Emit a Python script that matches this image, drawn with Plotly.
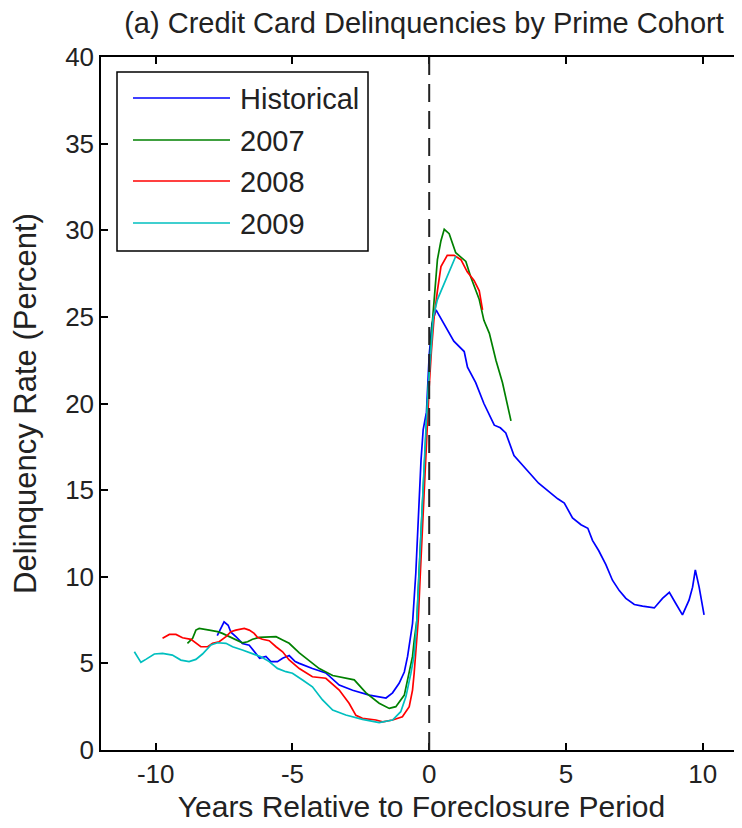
import plotly.graph_objects as go

hist_x = [-7.75, -7.5, -7.35, -7.25, -7.07, -6.83, -6.58, -6.4, -6.2, -5.97, -5.79, -5.55, -5.36, -5.12, -4.9, -4.75, -4.27, -3.78, -3.29, -2.8, -2.19, -1.58, -1.34, -1.1, -0.91, -0.79, -0.7, -0.61, -0.49, -0.43, -0.37, -0.3, -0.22, -0.1, 0.0, 0.1, 0.25, 0.55, 0.9, 1.28, 1.4, 1.7, 2.0, 2.38, 2.6, 2.8, 3.1, 3.66, 4.0, 4.7, 4.94, 5.24, 5.55, 5.8, 5.97, 6.2, 6.46, 6.7, 6.95, 7.19, 7.5, 7.8, 8.23, 8.53, 8.78, 9.0, 9.26, 9.5, 9.63, 9.73, 9.87, 10.05]
hist_y = [6.6, 7.4, 7.2, 6.8, 6.55, 6.15, 6.05, 5.67, 5.3, 5.4, 5.1, 5.1, 5.3, 5.45, 5.1, 5.0, 4.7, 4.45, 3.75, 3.45, 3.17, 3.0, 3.3, 3.85, 4.5, 5.4, 6.35, 7.3, 10.2, 12.3, 14.6, 16.7, 18.5, 19.5, 22.8, 24.6, 25.4, 24.6, 23.6, 23.0, 22.1, 21.2, 20.0, 18.75, 18.6, 18.3, 17.0, 16.0, 15.4, 14.5, 14.25, 13.4, 13.0, 12.8, 12.1, 11.5, 10.7, 9.8, 9.2, 8.75, 8.4, 8.3, 8.2, 8.75, 9.1, 8.5, 7.8, 8.65, 9.4, 10.4, 9.4, 7.8]

c2007_x = [-8.84, -8.65, -8.53, -8.41, -8.04, -7.74, -7.56, -7.31, -7.07, -6.83, -6.64, -6.46, -6.22, -5.6, -5.36, -5.12, -4.75, -4.02, -3.53, -2.74, -2.31, -1.83, -1.46, -1.22, -0.91, -0.73, -0.61, -0.55, -0.45, -0.38, -0.3, -0.22, -0.12, -0.03, 0.08, 0.2, 0.3, 0.43, 0.55, 0.73, 0.97, 1.34, 1.52, 1.83, 2.0, 2.2, 2.44, 2.68, 2.86, 2.99]
c2007_y = [6.16, 6.45, 6.92, 7.02, 6.92, 6.83, 6.73, 6.54, 6.35, 6.19, 6.25, 6.39, 6.5, 6.54, 6.35, 6.16, 5.6, 4.7, 4.3, 4.05, 3.3, 2.7, 2.4, 2.5, 3.17, 4.45, 5.4, 6.3, 7.5, 10.0, 12.7, 15.5, 18.5, 21.0, 24.0, 26.5, 28.3, 29.4, 30.05, 29.8, 28.7, 28.2, 27.3, 26.0, 24.8, 24.05, 22.5, 21.2, 19.8, 19.0]

c2008_x = [-9.75, -9.5, -9.26, -9.02, -8.71, -8.53, -8.35, -8.1, -7.92, -7.68, -7.43, -7.25, -7.07, -6.76, -6.58, -6.4, -6.28, -6.1, -5.85, -5.6, -5.36, -5.12, -4.75, -4.27, -3.78, -3.29, -2.93, -2.68, -2.44, -1.95, -1.7, -1.34, -0.98, -0.73, -0.61, -0.55, -0.49, -0.4, -0.33, -0.25, -0.17, -0.08, 0.0, 0.08, 0.18, 0.3, 0.43, 0.66, 0.91, 1.16, 1.39, 1.64, 1.83, 1.95]
c2008_y = [6.45, 6.67, 6.67, 6.48, 6.39, 6.16, 5.96, 5.96, 6.16, 6.25, 6.54, 6.83, 6.92, 7.02, 6.92, 6.73, 6.5, 6.39, 6.31, 5.96, 5.67, 5.2, 4.7, 4.23, 4.14, 3.46, 2.7, 2.0, 1.83, 1.73, 1.63, 1.73, 1.92, 2.5, 3.46, 4.43, 5.58, 7.5, 10.0, 12.7, 15.5, 18.5, 21.0, 23.0, 25.0, 26.5, 27.9, 28.55, 28.55, 28.3, 27.6, 27.1, 26.5, 25.4]

c2009_x = [-10.78, -10.66, -10.54, -10.36, -10.05, -9.75, -9.39, -9.08, -8.78, -8.53, -8.29, -7.98, -7.74, -7.43, -7.19, -6.83, -6.46, -6.15, -5.85, -5.55, -5.24, -5.0, -4.63, -4.27, -3.9, -3.53, -3.05, -2.44, -1.83, -1.34, -1.04, -0.85, -0.67, -0.55, -0.45, -0.38, -0.3, -0.22, -0.12, -0.03, 0.08, 0.15, 0.3, 0.55, 0.73, 0.97]
c2009_y = [5.67, 5.38, 5.06, 5.23, 5.54, 5.58, 5.48, 5.19, 5.1, 5.23, 5.54, 6.06, 6.19, 6.16, 5.96, 5.77, 5.58, 5.38, 5.1, 4.71, 4.52, 4.43, 4.04, 3.65, 2.89, 2.31, 2.02, 1.77, 1.58, 1.73, 2.21, 3.08, 4.43, 5.48, 7.5, 10.0, 12.7, 15.5, 18.5, 21.0, 23.5, 25.0, 26.0, 26.9, 27.6, 28.5]

series_names = ["Historical", "2007", "2008", "2009"]
series_colors = ["#0000FF", "#008000", "#FF0000", "#00BFBF"]
x_ticks = [-10, -5, 0, 5, 10]
x_tick_labels = ["-10", "-5", "0", "5", "10"]
y_ticks = [0, 5, 10, 15, 20, 25, 30, 35, 40]
y_tick_labels = ["0", "5", "10", "15", "20", "25", "30", "35", "40"]

FONT = "Liberation Sans"
TXT = "#222222"
OX, OY = 8, 8           # page (body) offset of the figure
W, H = 742 - OX, 828 - OY
L = 101 - OX
T = 57 - OY
B = H - (750 - OY)
R = 0
PW = W - L - R
PH = H - T - B

fig = go.Figure()
data = [(hist_x, hist_y), (c2007_x, c2007_y), (c2008_x, c2008_y), (c2009_x, c2009_y)]
for (xs, ys), name, col in zip(data, series_names, series_colors):
    fig.add_trace(go.Scatter(x=xs, y=ys, mode="lines", name=name,
                             line=dict(color=col, width=1.7), showlegend=False))

# dashed vertical line at 0
fig.add_shape(type="line", xref="x", yref="y", x0=0, x1=0, y0=0, y1=40,
              line=dict(color="#222222", width=2, dash="18px,9px"))


def sx(px):
    return (px - OX - L) / PW


def sy(py):
    return (H - B - (py - OY)) / PH


# MATLAB-style legend box
fig.add_shape(type="rect", xref="paper", yref="paper",
              x0=sx(117), x1=sx(368), y0=sy(251), y1=sy(72),
              line=dict(color="black", width=1.5), fillcolor="white", layer="above")
rows = [98, 140, 181, 223]
for name, col, ry in zip(series_names, series_colors, rows):
    fig.add_shape(type="line", xref="paper", yref="paper",
                  x0=sx(133), x1=sx(230), y0=sy(ry), y1=sy(ry),
                  line=dict(color=col, width=1.7), layer="above")
    fig.add_annotation(xref="paper", yref="paper", x=sx(238), y=sy(ry + 1),
                       text=name, showarrow=False, xanchor="left", yanchor="middle",
                       font=dict(family=FONT, size=29, color=TXT))

fig.update_layout(
    width=W, height=H,
    margin=dict(l=L, r=R, t=T, b=B, pad=0),
    paper_bgcolor="white", plot_bgcolor="white",
    font=dict(family=FONT, color=TXT),
    title=dict(text="(a) Credit Card Delinquencies by Prime Cohort",
               x=(424 - OX) / W, xanchor="center", y=1 - (23 - OY) / H, yanchor="middle",
               font=dict(family=FONT, size=29, color=TXT)),
)
fig.update_xaxes(range=[-12, -12 + PW / 27.35], tickvals=x_ticks, ticktext=x_tick_labels,
                 ticks="inside", ticklen=7,
                 tickwidth=1.5, tickcolor="black", showline=True, linecolor="black", linewidth=1.5,
                 mirror="ticks", showgrid=False, zeroline=False,
                 tickfont=dict(family=FONT, size=26, color=TXT),
                 title=dict(text="Years Relative to Foreclosure Period", standoff=8,
                            font=dict(family=FONT, size=30, color=TXT)))
fig.update_yaxes(range=[0, 40], tickvals=y_ticks, ticktext=y_tick_labels,
                 ticks="inside", ticklen=7,
                 tickwidth=1.5, tickcolor="black", showline=True, linecolor="black", linewidth=1.5,
                 mirror=False, showgrid=False, zeroline=False,
                 tickfont=dict(family=FONT, size=26, color=TXT),
                 title=dict(text="Delinquency Rate (Percent)", standoff=20,
                            font=dict(family=FONT, size=31, color=TXT)))

fig.write_html("out.html")
